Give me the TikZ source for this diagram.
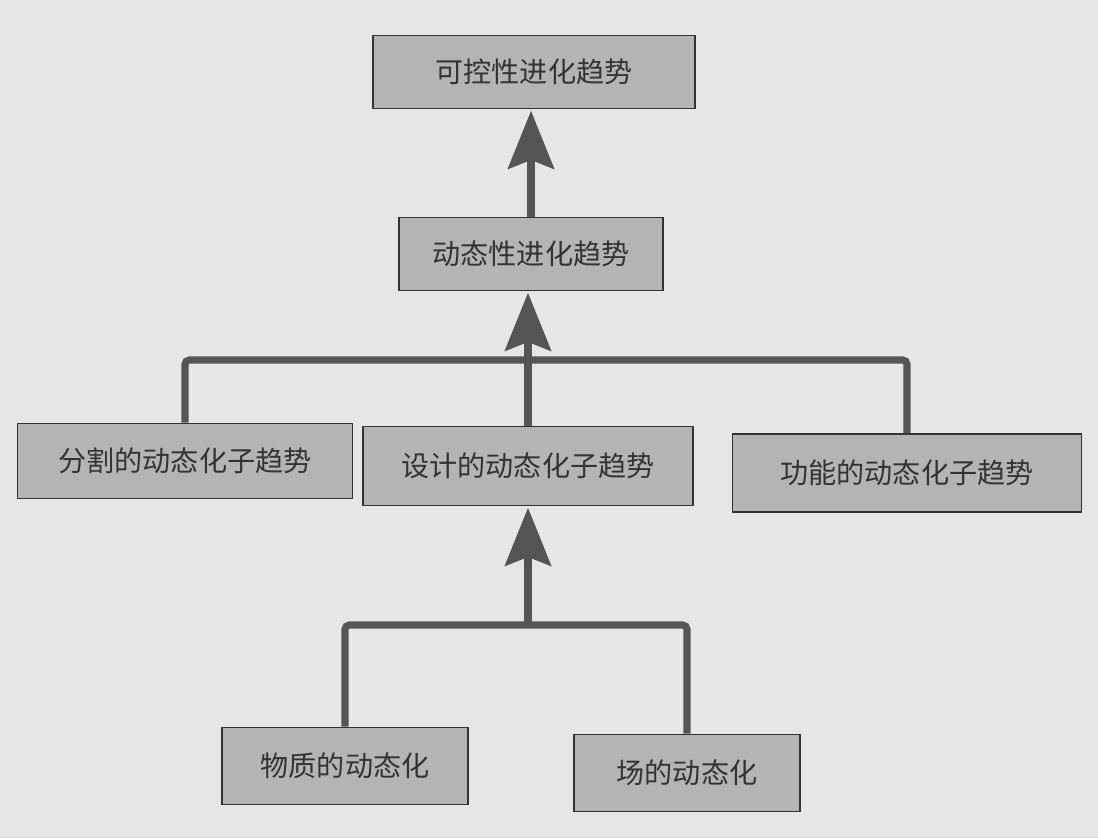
\documentclass[tikz,border=0pt]{standalone}
\usepackage{fontspec}
\setmainfont{Noto Sans CJK SC}
\usetikzlibrary{arrows.meta,positioning}
\definecolor{pagegray}{HTML}{E6E6E4}
\definecolor{boxgray}{HTML}{B4B4B4}
\definecolor{linegray}{HTML}{555555}
\definecolor{inkgray}{HTML}{333333}

\begin{document}
\begin{tikzpicture}[x=0.025cm, y=-0.025cm,
  every node/.style={font=\fontsize{20}{24}\selectfont, text=inkgray},
  trend/.style={draw=black!80, line width=1.2pt, fill=boxgray, inner sep=0pt},
  link/.style={draw=linegray, line width=5pt, rounded corners=3pt},
  bigarrow/.style={draw=linegray, line width=5pt, shorten >=1pt,
    -{Stealth[length=1.45cm, width=1.15cm, inset=0.22cm]}}]
  \fill[pagegray] (0,0) rectangle (1098,838);
  \node[trend, minimum width=8.05cm, minimum height=1.825cm] (ctrl) at (534,72) {可控性进化趋势};
  \node[trend, minimum width=6.6cm, minimum height=1.825cm] (dyn) at (531,254) {动态性进化趋势};
  \node[trend, minimum width=8.375cm, minimum height=1.875cm] (seg) at (185,461) {分割的动态化子趋势};
  \node[trend, minimum width=8.25cm, minimum height=1.975cm] (des) at (528,466) {设计的动态化子趋势};
  \node[trend, minimum width=8.725cm, minimum height=1.95cm] (fun) at (907,473) {功能的动态化子趋势};
  \node[trend, minimum width=6.15cm, minimum height=1.925cm] (mat) at (345,766) {物质的动态化};
  \node[trend, minimum width=5.65cm, minimum height=1.925cm] (fld) at (687,773) {场的动态化};
  \coordinate (J1) at (528,360);
  \coordinate (J2) at (528,625);
  \draw[bigarrow] (dyn.north) -- (dyn.north |- ctrl.south);
  \draw[link] (seg.north) |- (J1) -| (fun.north);
  \draw[link] (des.north) -- (J1);
  \draw[bigarrow] (J1) -- (J1 |- dyn.south);
  \draw[link] (mat.north) |- (J2) -| (fld.north);
  \draw[bigarrow] (J2) -- (J2 |- des.south);
\end{tikzpicture}
\end{document}
